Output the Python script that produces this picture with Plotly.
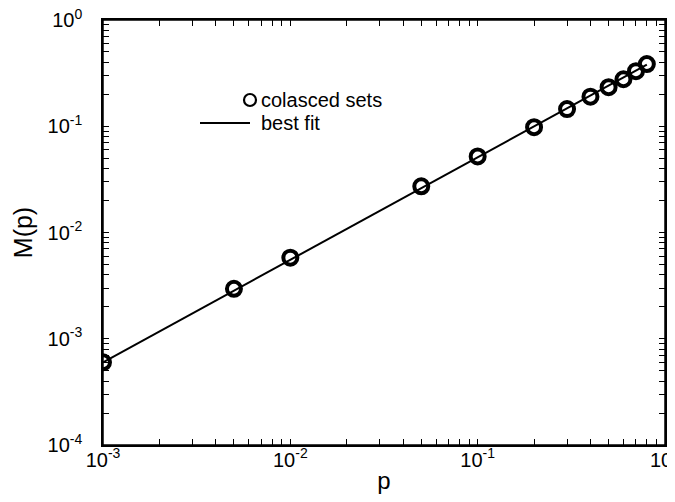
import plotly.graph_objects as go

# data
p_vals = [0.001, 0.005, 0.01, 0.05, 0.1, 0.2, 0.3, 0.4, 0.5, 0.6, 0.7, 0.8]
M_vals = [6.0e-4, 2.95e-3, 5.8e-3, 0.0272, 0.052, 0.098, 0.145, 0.19, 0.233, 0.277, 0.33, 0.385]
fit_p = [0.001, 0.8]
fit_M = [6.0e-4, 0.38]

x_major = [1e-3, 1e-2, 1e-1, 1e0]
x_major_text = ["10<sup>-3</sup>", "10<sup>-2</sup>", "10<sup>-1</sup>", "10<sup>0</sup>"]
y_major = [1e-4, 1e-3, 1e-2, 1e-1, 1e0]
y_major_text = ["10<sup>-4</sup>", "10<sup>-3</sup>", "10<sup>-2</sup>", "10<sup>-1</sup>", "10<sup>0</sup>"]
x_minor = [m * 10.0 ** e for e in range(-3, 0) for m in range(2, 10)]
y_minor = [m * 10.0 ** e for e in range(-4, 0) for m in range(2, 10)]

# merged tick lists (minor ticks carry no label)
x_ticks = sorted([(v, t) for v, t in zip(x_major, x_major_text)] + [(v, "") for v in x_minor])
y_ticks = sorted([(v, t) for v, t in zip(y_major, y_major_text)] + [(v, "") for v in y_minor])

FONT = "Liberation Sans, Arial, Helvetica, sans-serif"

fig = go.Figure()
fig.add_trace(go.Scatter(x=fit_p, y=fit_M, mode="lines",
                         line=dict(color="black", width=2), name="best fit",
                         showlegend=False))
fig.add_trace(go.Scatter(x=p_vals, y=M_vals, mode="markers",
                         marker=dict(symbol="circle-open", size=14, color="black",
                                     line=dict(color="black", width=4)),
                         name="colasced sets", showlegend=False))

# page-pixel layout (page body has an 8px margin)
OFF = 8
L, R, T, B = 103, 665, 20, 445
W, H = 675 - 2 * OFF, 502 - 2 * OFF
def px(x):
    return (x - L) / (R - L)
def py(y):
    return (B - y) / (B - T)

# plot frame
fig.add_shape(type="rect", xref="paper", yref="paper", x0=0, x1=1, y0=0, y1=1,
              line=dict(color="black", width=1.5))

# manual legend
fig.add_shape(type="circle", xref="paper", yref="paper",
              x0=px(244), x1=px(256), y0=py(106), y1=py(94),
              line=dict(color="black", width=2.2))
fig.add_shape(type="line", xref="paper", yref="paper",
              x0=px(200), x1=px(250), y0=py(123), y1=py(123),
              line=dict(color="black", width=2))
fig.add_annotation(text="colasced sets", xref="paper", yref="paper",
                   x=px(259), y=py(100), xanchor="left", yanchor="middle",
                   showarrow=False, font=dict(size=20, color="black", family=FONT))
fig.add_annotation(text="best fit", xref="paper", yref="paper",
                   x=px(259), y=py(123), xanchor="left", yanchor="middle",
                   showarrow=False, font=dict(size=20, color="black", family=FONT))

axis_common = dict(type="log", showgrid=False, zeroline=False, automargin=False,
                   showline=True, linecolor="black", linewidth=1.5, mirror="ticks",
                   ticks="inside", ticklen=6, tickwidth=1, tickcolor="black",
                   ticklabeloverflow="allow", tickmode="array",
                   tickfont=dict(size=20, color="black", family=FONT))

fig.update_layout(
    xaxis=dict(range=[-3, 0],
               tickvals=[v for v, _ in x_ticks], ticktext=[t for _, t in x_ticks],
               ticklabelstandoff=-4,
               title=dict(text="p", font=dict(size=24, color="black", family=FONT), standoff=5),
               **axis_common),
    yaxis=dict(range=[-4, 0],
               tickvals=[v for v, _ in y_ticks], ticktext=[t for _, t in y_ticks],
               ticklabelstandoff=15,
               title=dict(text="M(p)", font=dict(size=25, color="black", family=FONT), standoff=8),
               **axis_common),
)

fig.update_layout(width=W, height=H,
                  margin=dict(l=L - OFF, r=W + OFF - R, t=T - OFF, b=H + OFF - B),
                  plot_bgcolor="white", paper_bgcolor="white",
                  font=dict(family=FONT, color="black"), showlegend=False)

fig.write_html("out.html")
